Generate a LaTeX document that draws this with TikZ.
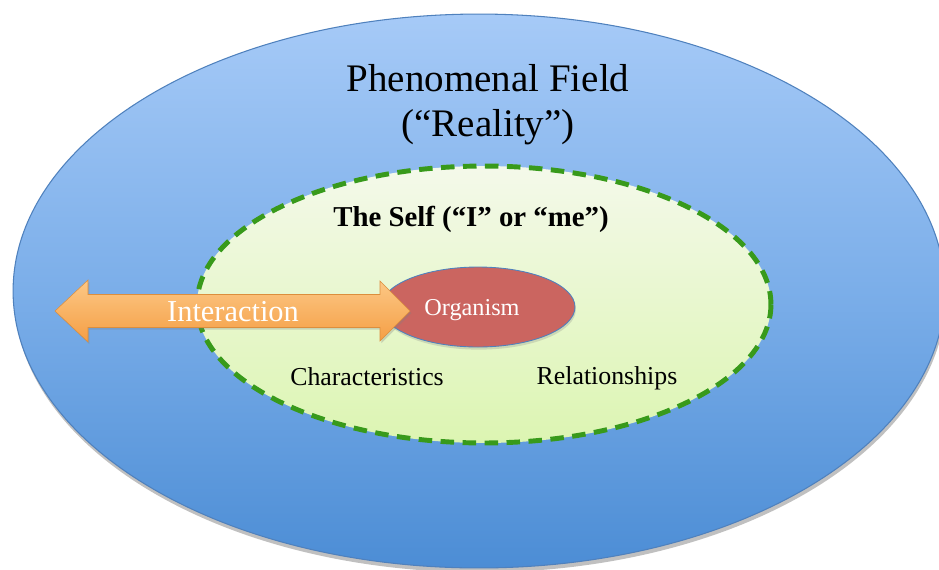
\documentclass[tikz,border=0pt]{standalone}
\usepackage{fontspec}
\setmainfont{Liberation Serif}
\usetikzlibrary{shapes.geometric,shadows}
\definecolor{fieldtop}{HTML}{A6CAF7}
\definecolor{fieldmid}{HTML}{7BAEE9}
\definecolor{fieldbot}{HTML}{4C8DD5}
\definecolor{fieldline}{HTML}{4F81BD}
\definecolor{selftop}{HTML}{F4F9EA}
\definecolor{selfbot}{HTML}{DCF5B2}
\definecolor{selfdash}{HTML}{389A1B}
\definecolor{orgfill}{HTML}{CB6560}
\definecolor{arrtop}{HTML}{FCC886}
\definecolor{arrbot}{HTML}{F59E44}
\begin{document}
\begin{tikzpicture}[x=0.02cm,y=-0.02cm,
  fieldshape/.style={ellipse, inner sep=0pt, draw=fieldline, line width=0.6pt,
    top color=fieldtop, bottom color=fieldbot, middle color=fieldmid,
    minimum width=18.64cm, minimum height=11.08cm,
    drop shadow={shadow xshift=0.6pt, shadow yshift=-2.5pt, opacity=0.35, fill=black!70}},
  selfshape/.style={ellipse, inner sep=0pt, draw=selfdash, line width=2.8pt,
    dash pattern=on 0.27cm off 0.17cm, top color=selftop, bottom color=selfbot,
    minimum width=11.48cm, minimum height=5.54cm},
  orgshape/.style={ellipse, inner sep=0pt, draw=fieldline, line width=0.5pt,
    fill=orgfill, minimum width=3.88cm, minimum height=1.6cm,
    drop shadow={shadow xshift=0.5pt, shadow yshift=-1.5pt, opacity=0.25}},
  arrowshape/.style={top color=arrtop, bottom color=arrbot, draw=arrbot!90!black, line width=0.3pt},
  lbl/.style={inner sep=0pt, text=black},
]
\useasboundingbox (0,0) rectangle (939,569);
\fill[white] (0,0) rectangle (939,569);

\node[fieldshape] (field) at (479,291) {};
\node[selfshape] (self) at (484,304.5) {};
\node[orgshape] (organism) at (478,307) {};

% double arrow
\path[arrowshape, drop shadow={shadow xshift=0.8pt, shadow yshift=-1.2pt, opacity=0.3}]
  (55,311) -- (88,280) -- (88,294.5) -- (380,294.5) -- (380,281) -- (410,311)
  -- (380,341) -- (380,327.5) -- (88,327.5) -- (88,342) -- cycle;

\node[lbl, font=\fontsize{22.2}{25.5}\selectfont, align=center] (title) at (488,105)
  {Phenomenal Field\\(“Reality”)};
\node[lbl, font=\fontsize{16.4}{19}\selectfont\bfseries] (selftitle) at (471,219)
  {The Self (“I” or “me”)};
\node[lbl, text=white, font=\fontsize{13.8}{16}\selectfont] (orglabel) at (472,310) {Organism};
\node[lbl, text=white, font=\fontsize{17.3}{20}\selectfont] (interaction) at (233,312) {Interaction};
\node[lbl, font=\fontsize{14.7}{17}\selectfont] (chars) at (367,377) {Characteristics};
\node[lbl, font=\fontsize{14.7}{17}\selectfont] (rels) at (607,378) {Relationships};
\end{tikzpicture}
\end{document}
